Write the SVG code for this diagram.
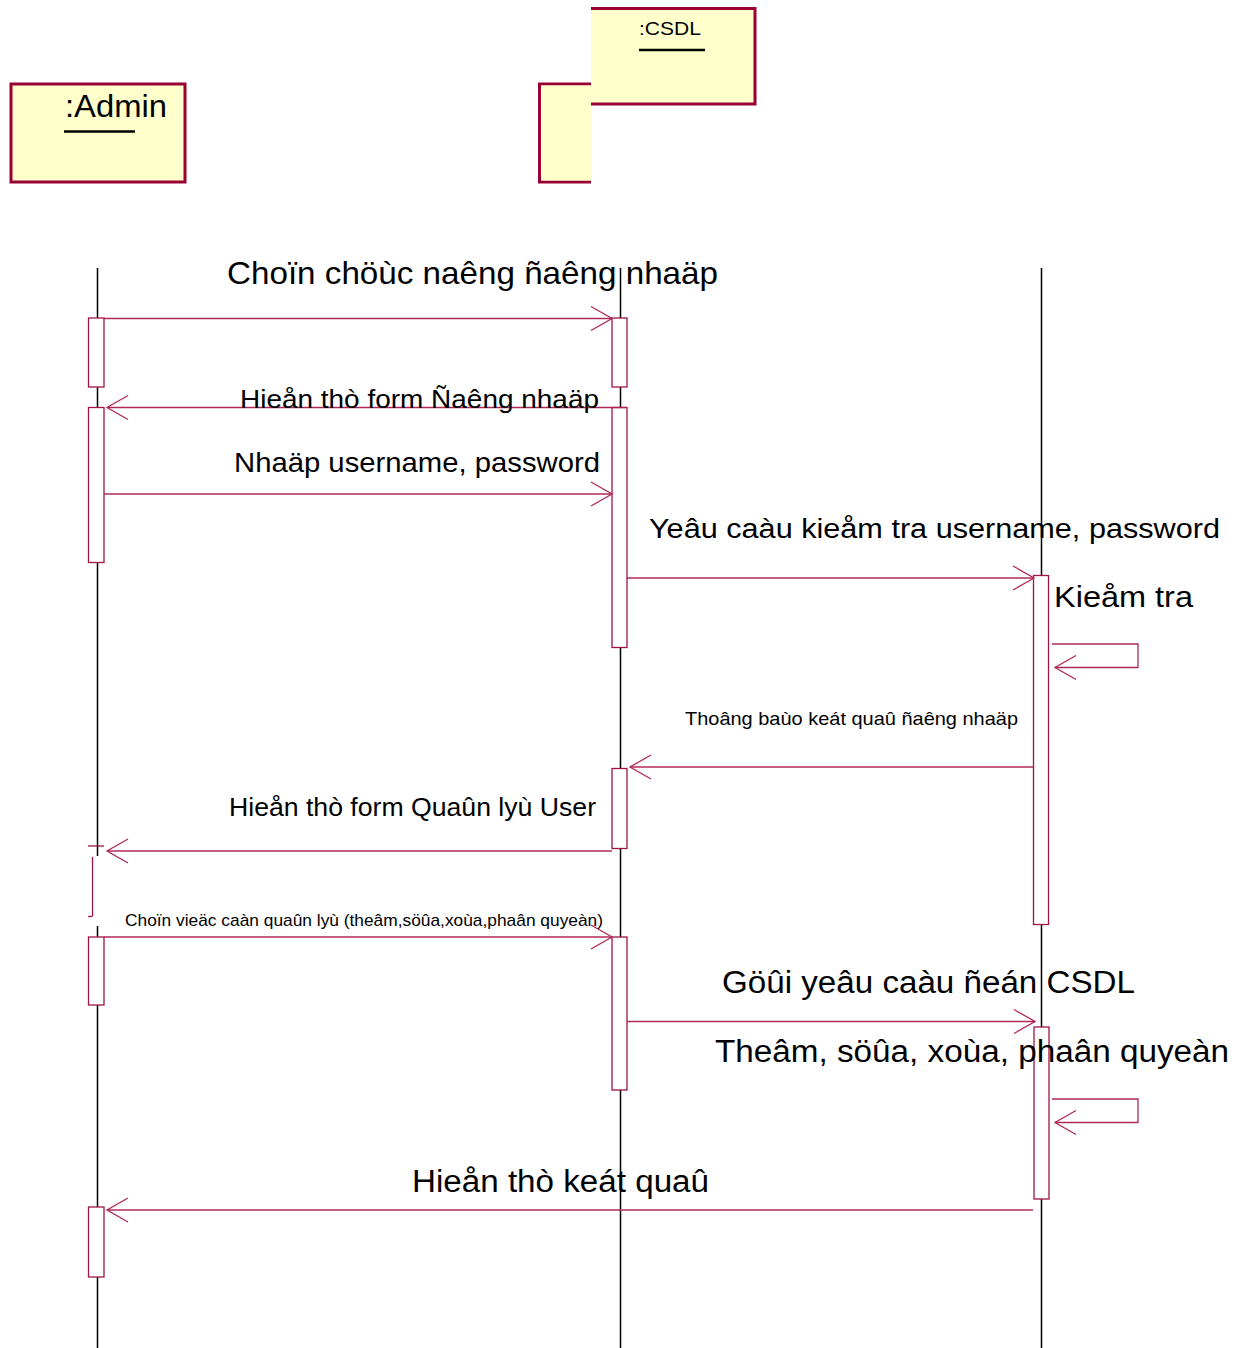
<svg xmlns="http://www.w3.org/2000/svg" width="1246" height="1348" viewBox="0 0 1246 1348">
<defs>
<style>
.obj{fill:#FFFFCC;stroke:#990033;stroke-width:3}
.life{stroke:#000;stroke-width:1.5;fill:none}
.act{fill:#fff;stroke:#A0143F;stroke-width:1.3}
.msg{stroke:#B02858;stroke-width:1.3;fill:none}
.lbl{font-family:"Liberation Sans",Arial,sans-serif;fill:#000}
</style>
<marker id="open" markerUnits="userSpaceOnUse" markerWidth="30" markerHeight="30" viewBox="-25 -15 30 30" refX="0" refY="0" orient="auto">
<path d="M-21,-12 L0,0 L-21,12" fill="none" stroke="#B02858" stroke-width="1.3"/>
</marker>
</defs>
<rect width="1246" height="1348" fill="#fff"/>

<g id="lifelines">
<line class="life" x1="97.5" y1="268" x2="97.5" y2="856"/>
<line class="life" x1="97.5" y1="926" x2="97.5" y2="1348"/>
<line class="life" x1="620.5" y1="268" x2="620.5" y2="1348"/>
<line class="life" x1="1041.5" y1="268" x2="1041.5" y2="1348"/>
</g>

<g id="admin">
<rect class="obj" x="11" y="84" width="174" height="98"/>
<text class="lbl" x="65" y="117" font-size="31" textLength="102" lengthAdjust="spacingAndGlyphs">:Admin</text>
<line x1="64" y1="131.5" x2="135" y2="131.5" stroke="#000" stroke-width="2.5"/>
</g>

<g id="middle">
<path d="M591,84 H539.5 V182 H591" fill="#FFFFCC" stroke="#990033" stroke-width="3"/>
<rect x="541" y="85.5" width="50" height="95" fill="#FFFFCC"/>
</g>

<g id="csdl">
<rect x="591" y="8" width="165" height="96" fill="#FFFFCC"/>
<path d="M591,8.5 H755 V104 H591" fill="none" stroke="#990033" stroke-width="3"/>
<text class="lbl" x="639" y="35" font-size="19" textLength="62" lengthAdjust="spacingAndGlyphs">:CSDL</text>
<line x1="639" y1="50" x2="705" y2="50" stroke="#000" stroke-width="2.5"/>
</g>

<g id="activations">
<rect class="act" x="88.5" y="318" width="15.5" height="69"/>
<rect class="act" x="88.5" y="407.5" width="15.5" height="155"/>
<rect class="act" x="88.5" y="937" width="15.5" height="68"/>
<rect class="act" x="88.5" y="1207" width="15.5" height="70"/>
<line class="act" x1="88" y1="846" x2="104" y2="846"/>
<line class="act" x1="92.5" y1="857" x2="92.5" y2="916"/>
<line class="act" x1="88" y1="916.5" x2="92.5" y2="916.5"/>
<rect class="act" x="612" y="318" width="15" height="69"/>
<rect class="act" x="612" y="407.5" width="15" height="240"/>
<rect class="act" x="612" y="768.5" width="15" height="80"/>
<rect class="act" x="612" y="937" width="15" height="153"/>
<rect class="act" x="1033.5" y="575.5" width="15" height="349"/>
<rect class="act" x="1034" y="1027" width="15" height="172"/>
</g>

<g id="connectors">
<line class="msg" x1="104" y1="318.5" x2="612" y2="318.5" marker-end="url(#open)"/>
<line class="msg" x1="626" y1="407.5" x2="107" y2="407.5" marker-end="url(#open)"/>
<line class="msg" x1="104" y1="494" x2="612" y2="494" marker-end="url(#open)"/>
<line class="msg" x1="627" y1="578" x2="1034" y2="578" marker-end="url(#open)"/>
<path class="msg" d="M1052,644 H1138 V667.5 H1055" marker-end="url(#open)"/>
<line class="msg" x1="1033" y1="767" x2="630" y2="767" marker-end="url(#open)"/>
<line class="msg" x1="612" y1="851" x2="107" y2="851" marker-end="url(#open)"/>
<line class="msg" x1="104" y1="937" x2="612" y2="937" marker-end="url(#open)"/>
<line class="msg" x1="627" y1="1021.5" x2="1035" y2="1021.5" marker-end="url(#open)"/>
<path class="msg" d="M1052,1099 H1138 V1122.5 H1055" marker-end="url(#open)"/>
<line class="msg" x1="1033" y1="1210" x2="107" y2="1210" marker-end="url(#open)"/>
</g>

<g id="labels">
<text class="lbl" x="227" y="284" font-size="32" textLength="491" lengthAdjust="spacingAndGlyphs">Choïn chöùc naêng ñaêng nhaäp</text>
<text class="lbl" x="240" y="408" font-size="26" textLength="359" lengthAdjust="spacingAndGlyphs">Hieån thò form Ñaêng nhaäp</text>
<text class="lbl" x="234" y="472" font-size="28" textLength="366" lengthAdjust="spacingAndGlyphs">Nhaäp username, password</text>
<text class="lbl" x="649" y="538" font-size="27" textLength="571" lengthAdjust="spacingAndGlyphs">Yeâu caàu kieåm tra username, password</text>
<text class="lbl" x="1054" y="607" font-size="30" textLength="139" lengthAdjust="spacingAndGlyphs">Kieåm tra</text>
<text class="lbl" x="685" y="725" font-size="19" textLength="333" lengthAdjust="spacingAndGlyphs">Thoâng baùo keát quaû ñaêng nhaäp</text>
<text class="lbl" x="229" y="816" font-size="25" textLength="367" lengthAdjust="spacingAndGlyphs">Hieån thò form Quaûn lyù User</text>
<text class="lbl" x="125" y="926" font-size="17" textLength="478" lengthAdjust="spacingAndGlyphs">Choïn vieäc caàn quaûn lyù (theâm,söûa,xoùa,phaân quyeàn)</text>
<text class="lbl" x="722" y="993" font-size="31" textLength="413" lengthAdjust="spacingAndGlyphs">Göûi yeâu caàu ñeán CSDL</text>
<text class="lbl" x="715" y="1062" font-size="31" textLength="514" lengthAdjust="spacingAndGlyphs">Theâm, söûa, xoùa, phaân quyeàn</text>
<text class="lbl" x="412" y="1192" font-size="31" textLength="297" lengthAdjust="spacingAndGlyphs">Hieån thò keát quaû</text>
</g>
</svg>
